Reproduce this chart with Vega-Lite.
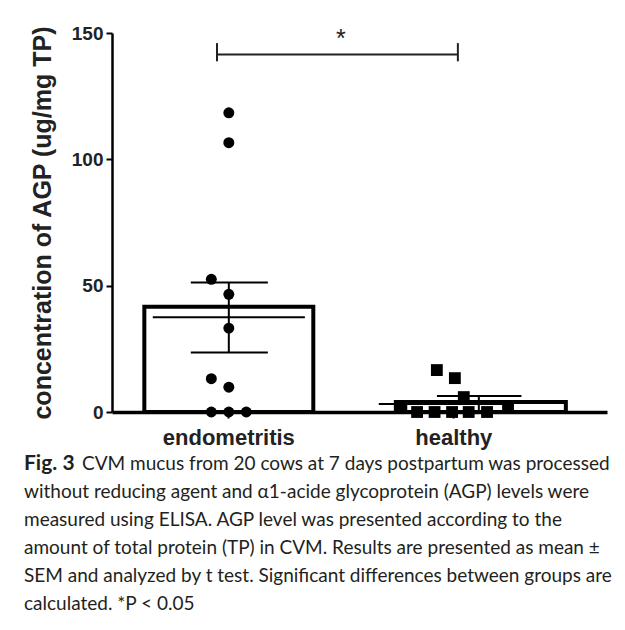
{
  "$schema": "https://vega.github.io/schema/vega-lite/v6.json",
  "background": "white",
  "padding": {"left": 24, "top": 24, "right": 5, "bottom": 2},
  "config": {
    "view": {"stroke": null},
    "font": "Liberation Sans",
    "concat": {"spacing": 2}
  },
  "datasets": {
    "points": [
      {"group": "endometritis", "value": 118.4, "slot": 0},
      {"group": "endometritis", "value": 106.6, "slot": 0},
      {"group": "endometritis", "value": 52.5, "slot": -1},
      {"group": "endometritis", "value": 46.6, "slot": 0},
      {"group": "endometritis", "value": 33.2, "slot": 0},
      {"group": "endometritis", "value": 13.2, "slot": -1},
      {"group": "endometritis", "value": 9.8, "slot": 0},
      {"group": "endometritis", "value": 0, "slot": -1},
      {"group": "endometritis", "value": 0, "slot": 0},
      {"group": "endometritis", "value": 0, "slot": 1},
      {"group": "healthy", "value": 16.6, "slot": -0.97},
      {"group": "healthy", "value": 13.4, "slot": 0.06},
      {"group": "healthy", "value": 5.9, "slot": 0.57},
      {"group": "healthy", "value": 2.0, "slot": -3.0},
      {"group": "healthy", "value": 1.7, "slot": 3.1},
      {"group": "healthy", "value": 0, "slot": -2.1},
      {"group": "healthy", "value": 0, "slot": -1.1},
      {"group": "healthy", "value": 0, "slot": -0.1},
      {"group": "healthy", "value": 0, "slot": 0.85},
      {"group": "healthy", "value": 0, "slot": 1.9}
    ],
    "summary": [
      {"group": "endometritis", "bar": 41.7, "mean": 37.5, "lo": 23.5, "hi": 51.3},
      {"group": "healthy", "bar": 4.0, "mean": 3.2, "lo": 0.6, "hi": 6.3}
    ],
    "sig": [
      {"g1": "endometritis", "g2": "healthy", "y": 141.5, "ytop": 146, "ybot": 138.8, "ystar": 144.5, "label": "*"}
    ],
    "caption": [
      {"line": 1, "text": "CVM mucus from 20 cows at 7 days postpartum was processed"},
      {"line": 2, "text": "without reducing agent and α1-acide glycoprotein (AGP) levels were"},
      {"line": 3, "text": "measured using ELISA. AGP level was presented according to the"},
      {"line": 4, "text": "amount of total protein (TP) in CVM. Results are presented as mean ±"},
      {"line": 5, "text": "SEM and analyzed by t test. Significant differences between groups are"},
      {"line": 6, "text": "calculated. *P < 0.05"}
    ],
    "figlabel": [{"line": 1, "text": "Fig. 3"}]
  },
  "vconcat": [
    {
      "width": 495,
      "height": 379,
      "encoding": {
        "x": {
          "field": "group",
          "type": "nominal",
          "scale": {"domain": ["endometritis", "healthy"], "paddingInner": 0.249, "paddingOuter": 0.2245, "align": 0.32},
          "axis": {
            "title": null,
            "labelAngle": 0,
            "labelFont": "Liberation Sans",
            "labelFontSize": 22,
            "labelFontWeight": "bold",
            "labelColor": "#222222",
            "labelPadding": 9,
            "tickSize": 6,
            "tickWidth": 2,
            "tickColor": "black",
            "domainColor": "black",
            "domainWidth": 3.5
          }
        }
      },
      "layer": [
        {
          "data": {"name": "summary"},
          "transform": [{"filter": "datum.group === 'endometritis'"}],
          "mark": {"type": "bar", "fill": "white", "stroke": "black", "strokeWidth": 4},
          "encoding": {
            "x": {"field": "group", "type": "nominal", "bandPosition": 0},
            "x2": {"field": "group", "bandPosition": 1},
            "y": {
              "field": "bar",
              "type": "quantitative",
              "scale": {"domain": [0, 150], "nice": false},
              "axis": {
                "values": [0, 50, 100, 150],
                "title": "concentration of AGP (ug/mg TP)",
                "titleFont": "Liberation Sans",
                "titleFontSize": 25,
                "titleFontWeight": "bold",
                "titleColor": "#222222",
                "titlePadding": 16,
                "labelFont": "Liberation Sans",
                "labelFontSize": 19,
                "labelFontWeight": "bold",
                "labelColor": "#222222",
                "labelPadding": 3,
                "tickSize": 6,
                "tickWidth": 2,
                "tickColor": "black",
                "domainColor": "black",
                "domainWidth": 2.5,
                "grid": false
              }
            },
            "y2": {"datum": 0}
          }
        },
        {
          "data": {"name": "summary"},
          "transform": [{"filter": "datum.group === 'healthy'"}],
          "mark": {"type": "bar", "fill": "white", "stroke": "black", "strokeWidth": 4},
          "encoding": {
            "x": {"field": "group", "type": "nominal", "bandPosition": 0.157},
            "x2": {"field": "group", "bandPosition": 1.163},
            "y": {"field": "bar", "type": "quantitative"},
            "y2": {"datum": 0}
          }
        },
        {
          "data": {"name": "summary"},
          "transform": [{"filter": "datum.group === 'endometritis'"}],
          "mark": {"type": "rule", "color": "black", "strokeWidth": 2},
          "encoding": {
            "x": {"field": "group", "type": "nominal", "bandPosition": 0.05},
            "x2": {"field": "group", "bandPosition": 0.95},
            "y": {"field": "mean", "type": "quantitative"}
          }
        },
        {
          "data": {"name": "summary"},
          "transform": [{"filter": "datum.group === 'healthy'"}],
          "mark": {"type": "rule", "color": "black", "strokeWidth": 2},
          "encoding": {
            "x": {"field": "group", "type": "nominal", "bandPosition": 0.056},
            "x2": {"field": "group", "bandPosition": 0.814},
            "y": {"field": "mean", "type": "quantitative"}
          }
        },
        {
          "data": {"name": "summary"},
          "transform": [{"filter": "datum.group === 'endometritis'"}],
          "mark": {"type": "rule", "color": "black", "strokeWidth": 2},
          "encoding": {
            "x": {"field": "group", "type": "nominal", "bandPosition": 0.5},
            "y": {"field": "lo", "type": "quantitative"},
            "y2": {"field": "hi"}
          }
        },
        {
          "data": {"name": "summary"},
          "transform": [{"filter": "datum.group === 'endometritis'"}],
          "mark": {"type": "rule", "color": "black", "strokeWidth": 2},
          "encoding": {
            "x": {"field": "group", "type": "nominal", "bandPosition": 0.275},
            "x2": {"field": "group", "bandPosition": 0.731},
            "y": {"field": "hi", "type": "quantitative"}
          }
        },
        {
          "data": {"name": "summary"},
          "transform": [{"filter": "datum.group === 'endometritis'"}],
          "mark": {"type": "rule", "color": "black", "strokeWidth": 2},
          "encoding": {
            "x": {"field": "group", "type": "nominal", "bandPosition": 0.275},
            "x2": {"field": "group", "bandPosition": 0.731},
            "y": {"field": "lo", "type": "quantitative"}
          }
        },
        {
          "data": {"name": "summary"},
          "transform": [{"filter": "datum.group === 'healthy'"}],
          "mark": {"type": "rule", "color": "black", "strokeWidth": 2},
          "encoding": {
            "x": {"field": "group", "type": "nominal", "bandPosition": 0.648},
            "y": {"field": "lo", "type": "quantitative"},
            "y2": {"field": "hi"}
          }
        },
        {
          "data": {"name": "summary"},
          "transform": [{"filter": "datum.group === 'healthy'"}],
          "mark": {"type": "rule", "color": "black", "strokeWidth": 2},
          "encoding": {
            "x": {"field": "group", "type": "nominal", "bandPosition": 0.4},
            "x2": {"field": "group", "bandPosition": 0.9},
            "y": {"field": "hi", "type": "quantitative"}
          }
        },
        {
          "data": {"name": "sig"},
          "mark": {"type": "rule", "color": "#222222", "strokeWidth": 2},
          "encoding": {
            "x": {"field": "g1", "type": "nominal", "bandPosition": 0.43},
            "x2": {"field": "g2", "bandPosition": 0.524},
            "y": {"field": "y", "type": "quantitative"}
          }
        },
        {
          "data": {"name": "sig"},
          "mark": {"type": "rule", "color": "#222222", "strokeWidth": 2},
          "encoding": {
            "x": {"field": "g1", "type": "nominal", "bandPosition": 0.43},
            "y": {"field": "ytop", "type": "quantitative"},
            "y2": {"field": "ybot"}
          }
        },
        {
          "data": {"name": "sig"},
          "mark": {"type": "rule", "color": "#222222", "strokeWidth": 2},
          "encoding": {
            "x": {"field": "g2", "type": "nominal", "bandPosition": 0.524},
            "y": {"field": "ytop", "type": "quantitative"},
            "y2": {"field": "ybot"}
          }
        },
        {
          "data": {"name": "sig"},
          "mark": {"type": "text", "fontSize": 25, "font": "Liberation Sans", "color": "#222222", "baseline": "alphabetic", "align": "center"},
          "encoding": {
            "x": {"field": "g1", "type": "nominal", "bandPosition": 1.163},
            "y": {"field": "ystar", "type": "quantitative"},
            "text": {"field": "label"}
          }
        },
        {
          "data": {"name": "points"},
          "transform": [{"filter": "datum.group === 'endometritis'"}],
          "mark": {"type": "point", "shape": "circle", "filled": true, "color": "black", "opacity": 1, "size": 120},
          "encoding": {
            "x": {"field": "group", "type": "nominal"},
            "xOffset": {"field": "slot", "type": "quantitative", "scale": {"domain": [-4.83, 4.83]}},
            "y": {"field": "value", "type": "quantitative"}
          }
        },
        {
          "data": {"name": "points"},
          "transform": [{"filter": "datum.group === 'healthy'"}],
          "mark": {"type": "point", "shape": "square", "filled": true, "color": "black", "opacity": 1, "size": 140},
          "encoding": {
            "x": {"field": "group", "type": "nominal"},
            "xOffset": {"field": "slot", "type": "quantitative", "scale": {"domain": [-4.83, 4.83]}},
            "y": {"field": "value", "type": "quantitative"}
          }
        }
      ]
    },
    {
      "width": 495,
      "height": 168,
      "encoding": {
        "x": {"datum": 0, "type": "quantitative", "scale": {"domain": [0, 1]}, "axis": null},
        "y": {"field": "line", "type": "ordinal", "axis": null, "scale": {"padding": 0.5}},
        "text": {"field": "text"}
      },
      "layer": [
        {
          "data": {"name": "figlabel"},
          "mark": {"type": "text", "align": "left", "baseline": "middle", "font": "Lato", "fontSize": 21, "fontWeight": "bold", "color": "#231f20", "dx": -88}
        },
        {
          "data": {"name": "caption"},
          "transform": [{"filter": "datum.line === 1"}],
          "mark": {"type": "text", "align": "left", "baseline": "middle", "font": "Lato", "fontSize": 19, "color": "#231f20", "dx": -30}
        },
        {
          "data": {"name": "caption"},
          "transform": [{"filter": "datum.line > 1"}],
          "mark": {"type": "text", "align": "left", "baseline": "middle", "font": "Lato", "fontSize": 19, "color": "#231f20", "dx": -88}
        }
      ]
    }
  ]
}
